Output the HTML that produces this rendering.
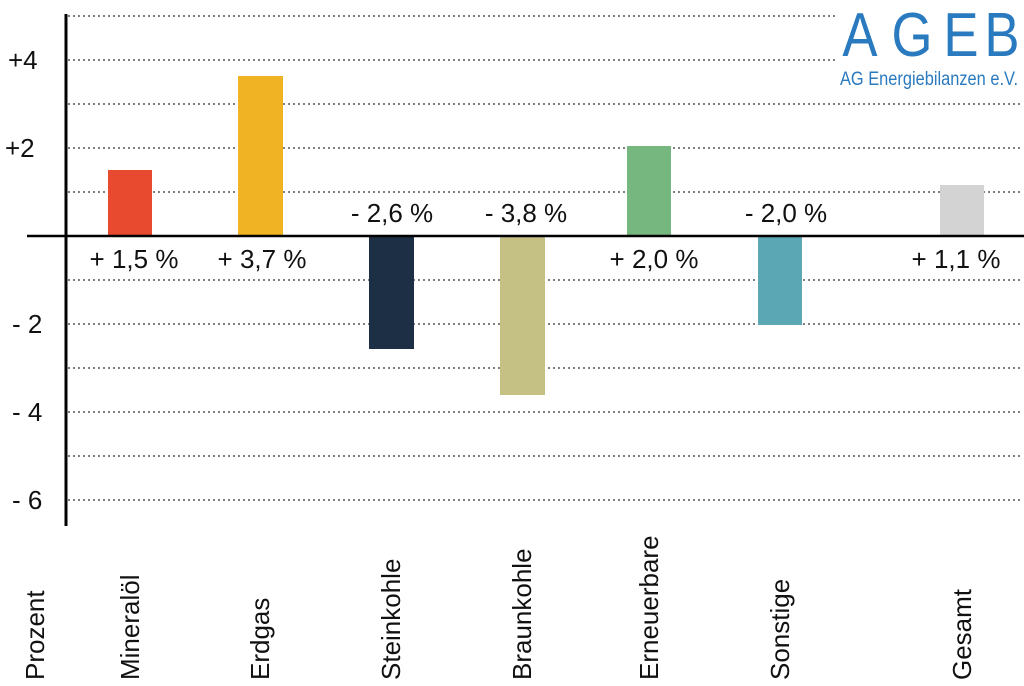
<!DOCTYPE html>
<html><head><meta charset="utf-8"><style>
html,body{margin:0;padding:0;background:#fff;}
svg{display:block;font-family:"Liberation Sans Narrow","Liberation Sans",sans-serif;}
</style></head><body>
<svg width="1024" height="686" viewBox="0 0 1024 686">
<g stroke="#333" stroke-width="1.3" stroke-dasharray="2,3">
<line x1="68" y1="16" x2="1020" y2="16"/>
<line x1="68" y1="60" x2="1020" y2="60"/>
<line x1="68" y1="104" x2="1020" y2="104"/>
<line x1="68" y1="148" x2="1020" y2="148"/>
<line x1="68" y1="192" x2="1020" y2="192"/>
<line x1="68" y1="280" x2="1020" y2="280"/>
<line x1="68" y1="324" x2="1020" y2="324"/>
<line x1="68" y1="368" x2="1020" y2="368"/>
<line x1="68" y1="412" x2="1020" y2="412"/>
<line x1="68" y1="456" x2="1020" y2="456"/>
<line x1="68" y1="500" x2="1020" y2="500"/>
</g>
<rect x="108" y="170" width="44" height="66" fill="#e84a2f"/>
<rect x="238" y="76" width="45" height="160" fill="#f0b323"/>
<rect x="369" y="236" width="45" height="113" fill="#1c2f45"/>
<rect x="500" y="236" width="45" height="159" fill="#c5c185"/>
<rect x="627" y="146" width="44" height="90" fill="#76b77f"/>
<rect x="758" y="236" width="44" height="89" fill="#5ba7b4"/>
<rect x="940" y="185" width="44" height="51" fill="#d3d3d3"/>
<line x1="27" y1="236" x2="1024" y2="236" stroke="#000" stroke-width="2.5"/>
<line x1="66" y1="14" x2="66" y2="526" stroke="#000" stroke-width="3"/>
<g font-size="26" fill="#111">
<text x="8" y="69">+4</text>
<text x="5" y="157">+2</text>
<text x="12" y="333">- 2</text>
<text x="12" y="421">- 4</text>
<text x="12" y="509">- 6</text>
</g>
<g font-size="26" fill="#111" text-anchor="middle">
<text x="134" y="268">+ 1,5 %</text>
<text x="262" y="268">+ 3,7 %</text>
<text x="392" y="222">- 2,6 %</text>
<text x="526" y="222">- 3,8 %</text>
<text x="654" y="268">+ 2,0 %</text>
<text x="786" y="222">- 2,0 %</text>
<text x="956" y="268">+ 1,1 %</text>
</g>
<g font-size="26" fill="#111">
<text transform="translate(44,680) rotate(-90)">Prozent</text>
<text transform="translate(139,680) rotate(-90)">Mineralöl</text>
<text transform="translate(269,680) rotate(-90)">Erdgas</text>
<text transform="translate(400,680) rotate(-90)">Steinkohle</text>
<text transform="translate(531,680) rotate(-90)">Braunkohle</text>
<text transform="translate(658,680) rotate(-90)">Erneuerbare</text>
<text transform="translate(789,680) rotate(-90)">Sonstige</text>
<text transform="translate(971,680) rotate(-90)">Gesamt</text>
</g>
<rect x="836" y="2" width="188" height="90" fill="#fff"/>
<g font-size="62" fill="#2a7abf" text-anchor="middle">
<text transform="translate(860,56) scale(0.85,1)">A</text>
<text transform="translate(912,56) scale(0.85,1)">G</text>
<text transform="translate(961,56) scale(0.85,1)">E</text>
<text transform="translate(1002,56) scale(0.85,1)">B</text>
</g>
<text x="840" y="85" font-size="19" fill="#2a7abf" textLength="178" lengthAdjust="spacingAndGlyphs">AG Energiebilanzen e.V.</text>
</svg>
</body></html>
